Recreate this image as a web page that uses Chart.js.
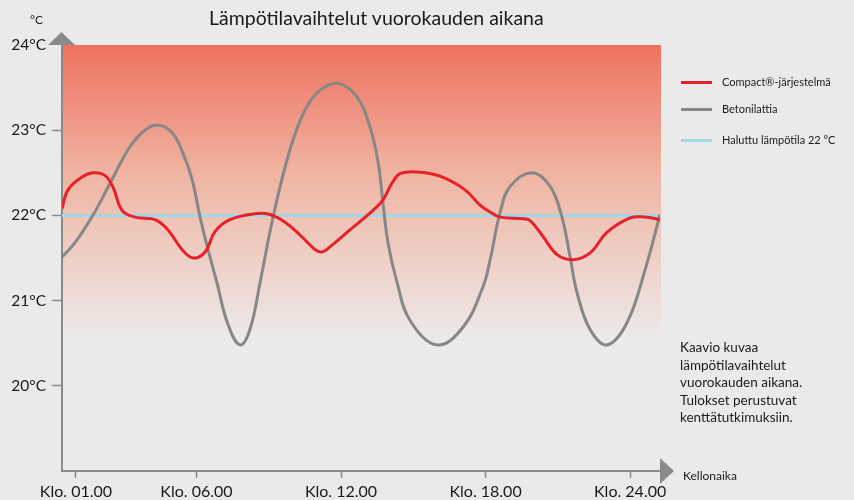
<!DOCTYPE html>
<html>
<head>
<meta charset="utf-8">
<script src="https://cdn.jsdelivr.net/npm/chart.js@4/dist/chart.umd.min.js"></script>
<style>
  html, body { margin:0; padding:0; background:#eaeaea; }
  #wrap { position:relative; width:854px; height:500px; font-family:"Lato","Noto Sans",sans-serif; color:#1a1a1a; }
  canvas { position:absolute; left:0; top:0; }
  .abs { position:absolute; white-space:nowrap; }
  #title { left:209px; top:6px; font-size:19.5px; }
  #unit { left:30px; top:12px; font-size:12px; }
  #xname { left:683px; top:468px; font-size:12px; }
  .leg { position:absolute; left:681px; width:31px; height:3px; }
  .legt { position:absolute; left:722px; font-size:11px; line-height:14px; }
  #desc { left:680px; top:339px; font-size:13.5px; line-height:17.6px; }
</style>
</head>
<body>
<div id="wrap">
  <canvas id="c" width="854" height="500"></canvas>
  <div class="abs" id="title">Lämpötilavaihtelut vuorokauden aikana</div>
  <div class="abs" id="unit">°C</div>
  <div class="abs" id="xname">Kellonaika</div>
  <div class="leg" style="top:81px;background:#e8202a"></div>
  <div class="legt" style="top:75px">Compact®-järjestelmä</div>
  <div class="leg" style="top:108px;background:#878787"></div>
  <div class="legt" style="top:102px">Betonilattia</div>
  <div class="leg" style="top:139px;background:#9fd8e8"></div>
  <div class="legt" style="top:133px">Haluttu lämpötila 22 °C</div>
  <div class="abs" id="desc">Kaavio kuvaa<br>lämpötilavaihtelut<br>vuorokauden aikana.<br>Tulokset perustuvat<br>kenttätutkimuksiin.</div>
</div>
<script>
// ---- data ----
const compactHours = [0.42,0.67,1.25,1.71,2.20,2.54,2.91,3.45,4.28,4.82,5.40,5.86,6.36,6.77,7.39,8.43,9.05,9.68,10.30,10.92,11.21,11.54,12.37,13.33,13.74,14.12,14.45,15.16,16.11,17.15,17.77,18.19,18.60,19.56,19.85,20.39,20.97,21.63,22.34,23.04,24.00,24.62,25.24];
const compactTemps = [22.08,22.30,22.45,22.50,22.47,22.33,22.06,21.98,21.95,21.83,21.60,21.50,21.57,21.81,21.95,22.02,22.01,21.92,21.77,21.60,21.57,21.63,21.83,22.06,22.18,22.38,22.49,22.51,22.46,22.30,22.12,22.04,21.98,21.96,21.94,21.75,21.54,21.48,21.56,21.80,21.97,21.98,21.95];
const betoniHours = [0.42,0.96,1.66,2.33,3.16,3.74,4.36,4.99,5.44,5.82,6.15,6.48,6.85,7.31,7.81,8.22,8.64,9.18,9.88,10.51,11.13,11.88,12.66,13.20,13.54,13.74,13.95,14.33,14.86,15.99,17.07,17.89,18.19,18.60,19.02,19.93,20.68,21.17,21.51,21.80,22.34,23.04,23.87,24.62,25.24];
const betoniTemps = [21.51,21.68,21.98,22.33,22.77,22.97,23.06,22.97,22.73,22.42,21.98,21.60,21.21,20.72,20.48,20.66,21.21,21.98,22.77,23.24,23.47,23.55,23.39,23.04,22.62,22.15,21.68,21.21,20.77,20.48,20.69,21.16,21.48,22.03,22.34,22.50,22.34,21.98,21.51,21.09,20.66,20.48,20.74,21.36,22.01];
const targetHours = [0.42, 25.24];
const targetTemps = [22, 22];
const xTickHours = [1, 6, 12, 18, 24];
const xTickLabels = ["Klo. 01.00", "Klo. 06.00", "Klo. 12.00", "Klo. 18.00", "Klo. 24.00"];
const yTickValues = [20, 21, 22, 23, 24];

const pts = (xs, ys) => xs.map((x, i) => ({ x: x, y: ys[i] }));
const AXIS = '#8a8a8a';

const decor = {
  id: 'decor',
  beforeDatasetsDraw(chart) {
    const { ctx, chartArea: a, scales } = chart;
    const yb = scales.y.getPixelForValue(20.6);
    const g = ctx.createLinearGradient(0, a.top, 0, yb);
    g.addColorStop(0, '#ef715f');
    g.addColorStop(0.45, '#f0b5a3');
    g.addColorStop(1, '#ede8e7');
    ctx.save();
    ctx.fillStyle = g;
    ctx.fillRect(a.left + 1, a.top, a.right - a.left, yb - a.top);
    ctx.restore();
  },
  afterDraw(chart) {
    const { ctx, chartArea: a } = chart;
    ctx.save();
    ctx.fillStyle = AXIS;
    ctx.beginPath();
    ctx.moveTo(a.left - 14, a.top);
    ctx.lineTo(a.left + 13, a.top);
    ctx.lineTo(a.left - 0.5, a.top - 13);
    ctx.closePath();
    ctx.fill();
    ctx.beginPath();
    ctx.moveTo(a.right, a.bottom - 13);
    ctx.lineTo(a.right, a.bottom + 13);
    ctx.lineTo(a.right + 14, a.bottom);
    ctx.closePath();
    ctx.fill();
    ctx.restore();
  }
};

new Chart(document.getElementById('c'), {
  type: 'line',
  data: {
    datasets: [
      { label: 'Compact®-järjestelmä', data: pts(compactHours, compactTemps), borderColor: '#e8202a', borderWidth: 3, pointRadius: 0, tension: 0.4, order: 1 },
      { label: 'Betonilattia', data: pts(betoniHours, betoniTemps), borderColor: '#878787', borderWidth: 3, pointRadius: 0, tension: 0.4, order: 2 },
      { label: 'Haluttu lämpötila 22 °C', data: pts(targetHours, targetTemps), borderColor: '#9fd8e8', borderWidth: 3, pointRadius: 0, order: 3 }
    ]
  },
  options: {
    responsive: false,
    animation: false,
    devicePixelRatio: 1,
    layout: { padding: { top: 45, right: 194, left: 0, bottom: 0 } },
    plugins: { legend: { display: false }, tooltip: { enabled: false }, title: { display: false } },
    scales: {
      x: {
        type: 'linear',
        min: 0.42, max: 25.24,
        afterBuildTicks: s => { s.ticks = xTickHours.map(v => ({ value: v })); },
        afterFit: s => { s.height = 29; },
        ticks: {
          autoSkip: false, maxRotation: 0, padding: 4, color: '#1a1a1a',
          font: { family: 'Lato, sans-serif', size: 16 },
          callback: (v) => xTickLabels[xTickHours.indexOf(v)]
        },
        grid: { drawOnChartArea: false, drawTicks: true, tickLength: 7, tickColor: AXIS, tickWidth: 1.5 },
        border: { color: AXIS, width: 2 }
      },
      y: {
        min: 19, max: 24,
        afterBuildTicks: s => { s.ticks = yTickValues.map(v => ({ value: v })); },
        afterFit: s => { s.width = 62; },
        ticks: {
          padding: 6, color: '#1a1a1a',
          font: { family: 'Lato, sans-serif', size: 15.5 },
          callback: v => v + '°C'
        },
        grid: { drawOnChartArea: false, drawTicks: true, tickLength: 10, tickWidth: 1.5,
                tickColor: c => (c.tick && c.tick.value === 24) ? 'rgba(0,0,0,0)' : AXIS },
        border: { color: AXIS, width: 2 }
      }
    }
  },
  plugins: [decor]
});
</script>
</body>
</html>
